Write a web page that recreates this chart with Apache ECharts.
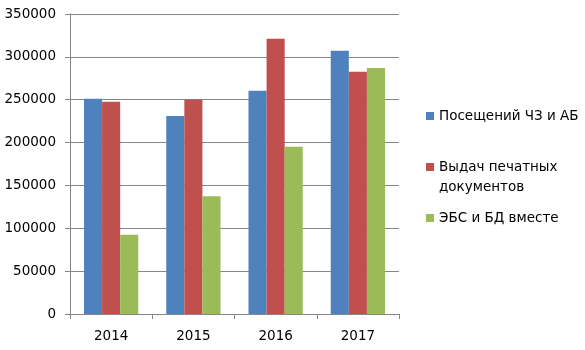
<!DOCTYPE html>
<html>
<head>
<meta charset="utf-8">
<script src="https://cdn.jsdelivr.net/npm/echarts@6/dist/echarts.min.js"></script>
<style>
  html, body { margin: 0; padding: 0; background: #fff; }
  #chart { width: 585px; height: 350px; }
</style>
</head>
<body>
<div id="chart"></div>
<script>
// Library statistics by year
const years = ['2014', '2015', '2016', '2017'];
const visits = [251000, 231000, 260500, 307000];       // Посещений ЧЗ и АБ
const printLoans = [247500, 250000, 321000, 282500];   // Выдач печатных документов
const ebsDb = [92500, 137500, 195000, 287000];         // ЭБС и БД вместе
const seriesNames = ['Посещений ЧЗ и АБ', 'Выдач печатных документов', 'ЭБС и БД вместе'];
const yTicks = { min: 0, max: 350000, interval: 50000 };

const axisGray = '#868686';
const font = 'DejaVu Sans';
const fontSize = 13.5;

const chart = echarts.init(document.getElementById('chart'), null, { renderer: 'canvas' });

chart.setOption({
  backgroundColor: '#ffffff',
  animation: false,
  color: ['#4F81BD', '#C0504D', '#9BBB59'],
  grid: { left: 70, right: 186, top: 14, bottom: 36, containLabel: false },
  legend: {
    orient: 'vertical',
    left: 426,
    top: 106,
    padding: 0,
    itemWidth: 8,
    itemHeight: 8,
    itemGap: 11,
    icon: 'rect',
    data: seriesNames,
    formatter: function (name) {
      // the long name wraps onto a second line, marker stays level with the first
      if (name === seriesNames[1]) return '{gap| }\nВыдач печатных\nдокументов';
      return name;
    },
    textStyle: {
      fontFamily: font,
      fontSize: fontSize,
      color: '#000',
      lineHeight: 20,
      rich: { gap: { lineHeight: 20, fontSize: fontSize } }
    }
  },
  xAxis: {
    type: 'category',
    data: years,
    axisLine: { show: true, lineStyle: { color: axisGray, width: 1 } },
    axisTick: { show: true, length: 5, alignWithLabel: false, lineStyle: { color: axisGray } },
    axisLabel: { margin: 15, fontFamily: font, fontSize: fontSize, color: '#000' },
    splitLine: { show: false }
  },
  yAxis: {
    type: 'value',
    min: yTicks.min,
    max: yTicks.max,
    interval: yTicks.interval,
    axisLine: { show: true, lineStyle: { color: axisGray, width: 1 } },
    axisTick: { show: true, length: 5, lineStyle: { color: axisGray } },
    axisLabel: {
      margin: 14, fontFamily: font, fontSize: fontSize, color: '#000',
      formatter: function (v) { return String(v); }
    },
    splitLine: { show: true, lineStyle: { color: axisGray, width: 1 } }
  },
  series: [
    { name: seriesNames[0], type: 'bar', data: visits, barGap: '0%', barCategoryGap: '34%' },
    { name: seriesNames[1], type: 'bar', data: printLoans, barGap: '0%', barCategoryGap: '34%' },
    { name: seriesNames[2], type: 'bar', data: ebsDb, barGap: '0%', barCategoryGap: '34%' }
  ]
});
</script>
</body>
</html>
